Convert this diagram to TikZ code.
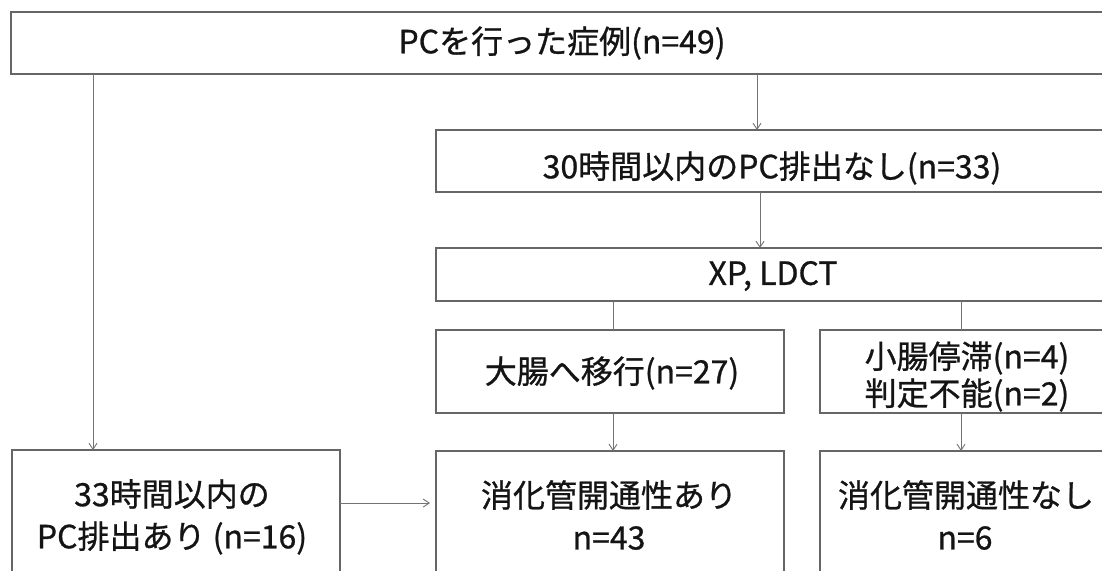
\documentclass[tikz,border=0pt]{standalone}
\usepackage{fontspec}
\setmainfont{Noto Sans CJK JP}[FakeBold=0.8]
\usetikzlibrary{arrows.meta}
\tikzset{
  box/.style={draw=black!60, line width=1.5pt, rectangle, inner sep=0pt, outer sep=0pt, anchor=north west, fill=none},
  lbl/.style={inner sep=0pt, text=black!92, font=\fontsize{32}{46}\selectfont, align=center},
  conn/.style={draw=black!55, line width=0.9pt},
  arr/.style={conn, -{Straight Barb[length=6pt,width=8pt]}}
}
\begin{document}
\begin{tikzpicture}[x=1pt,y=-1pt]
\useasboundingbox (0,0) rectangle (1102,570);
\fill[white] (0,0) rectangle (1102,570);
% boxes
\node[box, minimum width=1130pt, minimum height=62pt] (top) at (11,12) {};
\node[box, minimum width=700pt, minimum height=62pt] (none30) at (436,130) {};
\node[box, minimum width=700pt, minimum height=53pt] (xp) at (436,248) {};
\node[box, minimum width=348pt, minimum height=83pt] (large) at (436,330) {};
\node[box, minimum width=320pt, minimum height=83pt] (small) at (820,330) {};
\node[box, minimum width=328pt, minimum height=160pt] (pc16) at (12,450) {};
\node[box, minimum width=348pt, minimum height=160pt] (yes) at (436,451) {};
\node[box, minimum width=320pt, minimum height=160pt] (no) at (820,451) {};
% texts
\node[lbl] (ttop) at (562,43) {PCを行った症例(n=49)};
\node[lbl] (tnone30) at (772,168) {30時間以内のPC排出なし(n=33)};
\node[lbl] (txp) at (773,276) {XP, LDCT};
\node[lbl] (tlarge) at (612,373) {大腸へ移行(n=27)};
\node[lbl] (tsmall1) at (967,358) {小腸停滞(n=4)};
\node[lbl] (tsmall2) at (967,395) {判定不能(n=2)};
\node[lbl] (tpc1) at (172,494) {33時間以内の};
\node[lbl] (tpc2) at (172,538) {PC排出あり (n=16)};
\node[lbl] (tyes1) at (609,495) {消化管開通性あり};
\node[lbl] (tyes2) at (609,538) {n=43};
\node[lbl] (tno1) at (966,495) {消化管開通性なし};
\node[lbl] (tno2) at (965,538) {n=6};
% connector columns
\coordinate (cL) at (93,0);
\coordinate (cA) at (757,0);
\coordinate (cB) at (760,0);
\coordinate (cC) at (613,0);
\coordinate (cD) at (961,0);
\coordinate (rY) at (0,503);
% connectors
\draw[arr] (top.south -| cL) -- (pc16.north -| cL);
\draw[arr] (top.south -| cA) -- (none30.north -| cA);
\draw[arr] (none30.south -| cB) -- (xp.north -| cB);
\draw[conn] (xp.south -| cC) -- (large.north -| cC);
\draw[conn] (xp.south -| cD) -- (small.north -| cD);
\draw[arr] (large.south -| cC) -- (yes.north -| cC);
\draw[arr] (small.south -| cD) -- (no.north -| cD);
\draw[arr] (pc16.east |- rY) -- ([xshift=-6pt]yes.west |- rY);
\end{tikzpicture}
\end{document}
